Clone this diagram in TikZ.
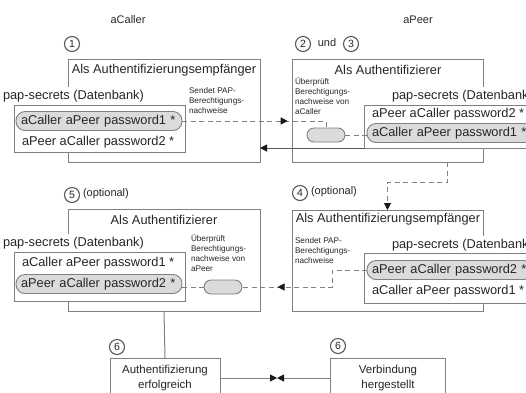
\documentclass[tikz,border=0pt]{standalone}
\usepackage{fontspec}
\setmainfont{Liberation Sans}
\usetikzlibrary{arrows.meta,decorations.markings,calc}

\definecolor{frame}{gray}{0.5}
\definecolor{pillfill}{gray}{0.86}
\definecolor{ink}{gray}{0.15}
\definecolor{tipink}{gray}{0.1}
\definecolor{ring}{gray}{0.35}

\begin{document}
\begin{tikzpicture}[x=1pt,y=-1pt,
  every node/.style={text=ink, inner sep=0pt, outer sep=0pt},
  panel/.style={draw=frame, line width=0.9pt, fill=white, anchor=north west},
  dbbox/.style={draw=frame, line width=0.9pt, fill=white, anchor=north west},
  dblabel/.style={anchor=west, fill=white, inner sep=3pt, font=\fontsize{12.8}{15}\selectfont},
  paneltitle/.style={font=\fontsize{12.8}{15}\selectfont},
  dbentry/.style={anchor=west, font=\fontsize{12.8}{15}\selectfont},
  pill/.style={dbentry, draw=frame, line width=0.9pt, fill=pillfill, rounded corners=9pt,
    minimum height=19pt, text width=156pt, inner xsep=5pt, align=left},
  token/.style={draw=frame, line width=0.9pt, fill=pillfill, rounded corners=7pt,
    minimum width=38pt, minimum height=14pt},
  aside/.style={anchor=north west, align=left, font=\fontsize{8.2}{10}\selectfont},
  stepnum/.style={circle, draw=ring, line width=1.1pt, minimum size=15pt, fill=white,
    font=\fontsize{10.5}{10.5}\selectfont},
  colhead/.style={font=\fontsize{11}{13}\selectfont},
  remark/.style={font=\fontsize{11}{13}\selectfont},
  outcome/.style={draw=frame, line width=0.9pt, fill=white, anchor=north, align=center,
    font=\fontsize{11.5}{15}\selectfont},
  flow/.style={draw=frame, line width=1pt, dash pattern=on 5pt off 3.5pt},
  solidlink/.style={draw=black!65, line width=1pt},
  arrowend/.style={-{Triangle[length=7pt,width=7pt,color=tipink]}},
  midarrow/.style={postaction={decorate}, decoration={markings,
    mark=at position #1 with {\arrow{Triangle[length=7pt,width=7pt,color=tipink]}}}},
]
\useasboundingbox (0,0) rectangle (526,392);
\clip (0,0) rectangle (526,392);

% column headings
\node[colhead] (hcaller) at (128,20) {aCaller};
\node[colhead] (hpeer) at (418,20) {aPeer};

% step 1: aCaller as authentication receiver
\node[stepnum] (m1) at (72,44) {1};
\node[panel, minimum width=192pt, minimum height=103pt] (p1) at (68,59) {};
\node[paneltitle] (t1) at (164,70) {Als Authentifizierungsempfänger};
\node[dblabel] (d1) at (0,96) {pap-secrets (Datenbank)};
\node[dbbox, minimum width=171pt, minimum height=47pt] (db1) at (14,105) {};
\node[pill] (k1) at (16,121) {aCaller aPeer password1 *};
\node[dbentry] (r1) at (22,142) {aPeer aCaller password2 *};
\node[aside] (s1) at (189,88) {Sendet PAP-\\Berechtigungs-\\nachweise};

% steps 2 and 3: aPeer as authenticator
\node[stepnum] (m2) at (303,44) {2};
\node[remark] (und) at (327,43) {und};
\node[stepnum] (m3) at (351,44) {3};
\node[panel, minimum width=191pt, minimum height=103pt] (p2) at (292,59) {};
\node[paneltitle] (t2) at (388,70) {Als Authentifizierer};
\node[aside] (s2) at (295,78) {Überprüft\\Berechtigungs-\\nachweise von\\aCaller};
\node[dblabel] (d2) at (389,96) {pap-secrets (Datenbank)};
\node[dbbox, minimum width=171pt, minimum height=43pt] (db2) at (364,105) {};
\node[dbentry] (r2) at (372,114) {aPeer aCaller password2 *};
\node[pill] (k2) at (367,133) {aCaller aPeer password1 *};
\node[token] (c2) at (326,135) {};

% step 4: aPeer as authentication receiver
\node[stepnum] (m4) at (300,193) {4};
\node[remark, anchor=west] (o4) at (311,192) {(optional)};
\node[panel, minimum width=191pt, minimum height=101pt] (p4) at (292,210) {};
\node[paneltitle] (t4) at (388,219) {Als Authentifizierungsempfänger};
\node[aside] (s4) at (295,238) {Sendet PAP-\\Berechtigungs-\\nachweise};
\node[dblabel] (d4) at (389,245) {pap-secrets (Datenbank)};
\node[dbbox, minimum width=171pt, minimum height=50pt] (db4) at (364,253) {};
\node[pill] (k4) at (367,270) {aPeer aCaller password2 *};
\node[dbentry] (r4) at (372,291) {aCaller aPeer password1 *};

% step 5: aCaller as authenticator
\node[stepnum] (m5) at (72,195) {5};
\node[remark, anchor=west] (o5) at (83,194) {(optional)};
\node[panel, minimum width=192pt, minimum height=102pt] (p5) at (68,209) {};
\node[paneltitle] (t5) at (164,220) {Als Authentifizierer};
\node[dblabel] (d5) at (0,243) {pap-secrets (Datenbank)};
\node[dbbox, minimum width=171pt, minimum height=49pt] (db5) at (14,252) {};
\node[dbentry] (r5) at (22,263) {aCaller aPeer password1 *};
\node[pill] (k5) at (16,284) {aPeer aCaller password2 *};
\node[aside] (s5) at (191,235) {Überprüft\\Berechtigungs-\\nachweise von\\aPeer};
\node[token] (c5) at (223,287) {};

% step 6: outcome on both sides
\node[stepnum] (m6a) at (117,347) {6};
\node[outcome, minimum width=110pt, minimum height=40pt] (e6a) at (165,358) {Authentifizierung\\erfolgreich};
\node[stepnum] (m6b) at (338,346) {6};
\node[outcome, minimum width=115pt, minimum height=40pt] (e6b) at (388,358) {Verbindung\\hergestellt};
\coordinate (meet) at (277,378);

% connectors
\draw[flow, midarrow=0.7] (k1.east) -| (c2.north);
\draw[flow] (c2.east) -- (c2.east -| k2.west);
\draw[solidlink, arrowend] (db2.south west) -- (db2.south west -| p1.east);
\draw[flow, arrowend] ([xshift=60pt]p2.south) -- ++(0,20) -| (p4.north);
\draw[flow, midarrow=0.75] (k4.west) -- ++(-35,0) |- (c5.east);
\draw[flow] (c5.west) -- (c5.west -| k5.east);
\draw[solidlink, draw=frame] (p5.south) -- (e6a.north);
\draw[solidlink, draw=frame, arrowend] (e6a.east) -- (meet);
\draw[solidlink, draw=frame, arrowend] (e6b.west) -- (meet);
\end{tikzpicture}
\end{document}
